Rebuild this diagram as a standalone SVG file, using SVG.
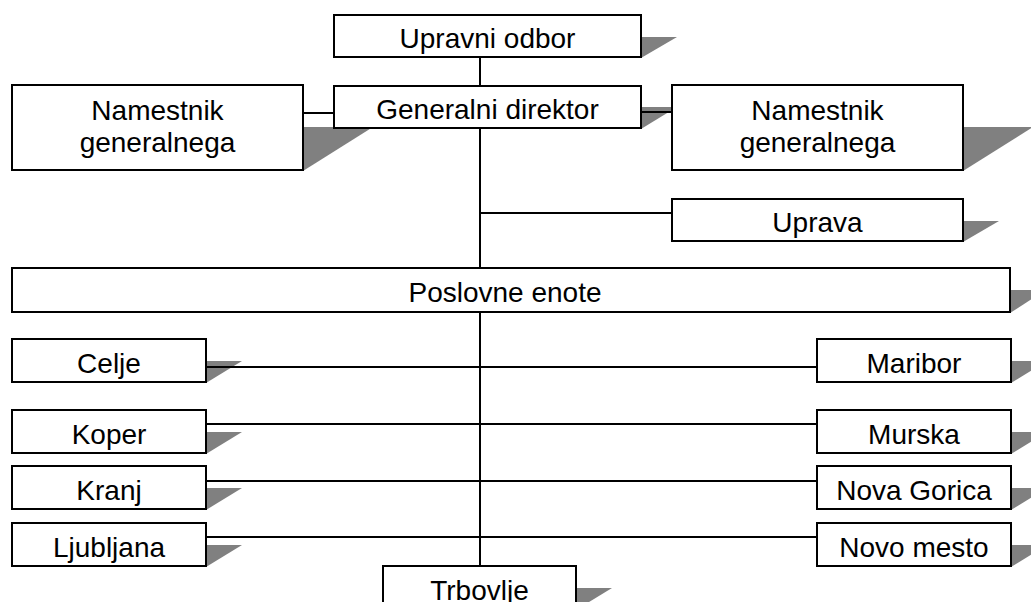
<svg xmlns="http://www.w3.org/2000/svg" width="1031" height="602" viewBox="0 0 1031 602">
<style>
.box{fill:#fff;stroke:#000;stroke-width:2}
.sh{fill:#808080}
.t{font-family:"Liberation Sans",Arial,sans-serif;font-size:28px;fill:#000;text-anchor:middle}
.c{stroke:#000;stroke-width:2;fill:none}
</style>
<rect width="1031" height="602" fill="#fff"/>
<g id="upravni-odbor">
<polygon class="sh" points="641,37 677,37 641,58"/>
<rect class="box" x="334" y="15" width="307" height="42"/>
<text class="t" x="487.5" y="48">Upravni odbor</text>
</g>
<g id="namestnik-levo">
<polygon class="sh" points="303,127 373,127 303,171"/>
<rect class="box" x="12" y="85" width="291" height="85"/>
<text class="t" x="157.5" y="120">Namestnik</text>
<text class="t" x="157.5" y="152">generalnega</text>
</g>
<g id="generalni-direktor">
<polygon class="sh" points="641,107 677,107 641,129"/>
<rect class="box" x="334" y="86" width="307" height="42"/>
<text class="t" x="487.5" y="119">Generalni direktor</text>
</g>
<g id="namestnik-desno">
<polygon class="sh" points="963,127 1033,127 963,171"/>
<rect class="box" x="672" y="85" width="291" height="85"/>
<text class="t" x="817.5" y="120">Namestnik</text>
<text class="t" x="817.5" y="152">generalnega</text>
</g>
<g id="uprava">
<polygon class="sh" points="963,221 999,221 963,242"/>
<rect class="box" x="672" y="199" width="291" height="42"/>
<text class="t" x="817.5" y="232">Uprava</text>
</g>
<g id="poslovne-enote">
<polygon class="sh" points="1010,290 1046,290 1010,313"/>
<rect class="box" x="12" y="268" width="998" height="44"/>
<text class="t" x="505" y="302">Poslovne enote</text>
</g>
<g id="celje">
<polygon class="sh" points="206,361 242,361 206,383"/>
<rect class="box" x="12" y="339" width="194" height="43"/>
<text class="t" x="109" y="373">Celje</text>
</g>
<g id="koper">
<polygon class="sh" points="206,432 242,432 206,454"/>
<rect class="box" x="12" y="410" width="194" height="43"/>
<text class="t" x="109" y="444">Koper</text>
</g>
<g id="kranj">
<polygon class="sh" points="206,488 242,488 206,510"/>
<rect class="box" x="12" y="466" width="194" height="43"/>
<text class="t" x="109" y="500">Kranj</text>
</g>
<g id="ljubljana">
<polygon class="sh" points="206,545 242,545 206,567"/>
<rect class="box" x="12" y="523" width="194" height="43"/>
<text class="t" x="109" y="557">Ljubljana</text>
</g>
<g id="maribor">
<polygon class="sh" points="1011,361 1047,361 1011,383"/>
<rect class="box" x="817" y="339" width="194" height="43"/>
<text class="t" x="914" y="373">Maribor</text>
</g>
<g id="murska">
<polygon class="sh" points="1011,432 1047,432 1011,454"/>
<rect class="box" x="817" y="410" width="194" height="43"/>
<text class="t" x="914" y="444">Murska</text>
</g>
<g id="nova-gorica">
<polygon class="sh" points="1011,488 1047,488 1011,510"/>
<rect class="box" x="817" y="466" width="194" height="43"/>
<text class="t" x="914" y="500">Nova Gorica</text>
</g>
<g id="novo-mesto">
<polygon class="sh" points="1011,545 1047,545 1011,567"/>
<rect class="box" x="817" y="523" width="194" height="43"/>
<text class="t" x="914" y="557">Novo mesto</text>
</g>
<g id="trbovlje">
<polygon class="sh" points="576,588 612,588 576,610"/>
<rect class="box" x="383" y="566" width="193" height="43"/>
<text class="t" x="479.5" y="600">Trbovlje</text>
</g>
<g id="connectors">
<path class="c" d="M480,57V86M480,128V268M480,312V566"/>
<path class="c" d="M303,113H334M641,112H672M480,213H672"/>
<path class="c" d="M206,367H817M206,424H817M206,481H817M206,537H817"/>
</g>
</svg>
